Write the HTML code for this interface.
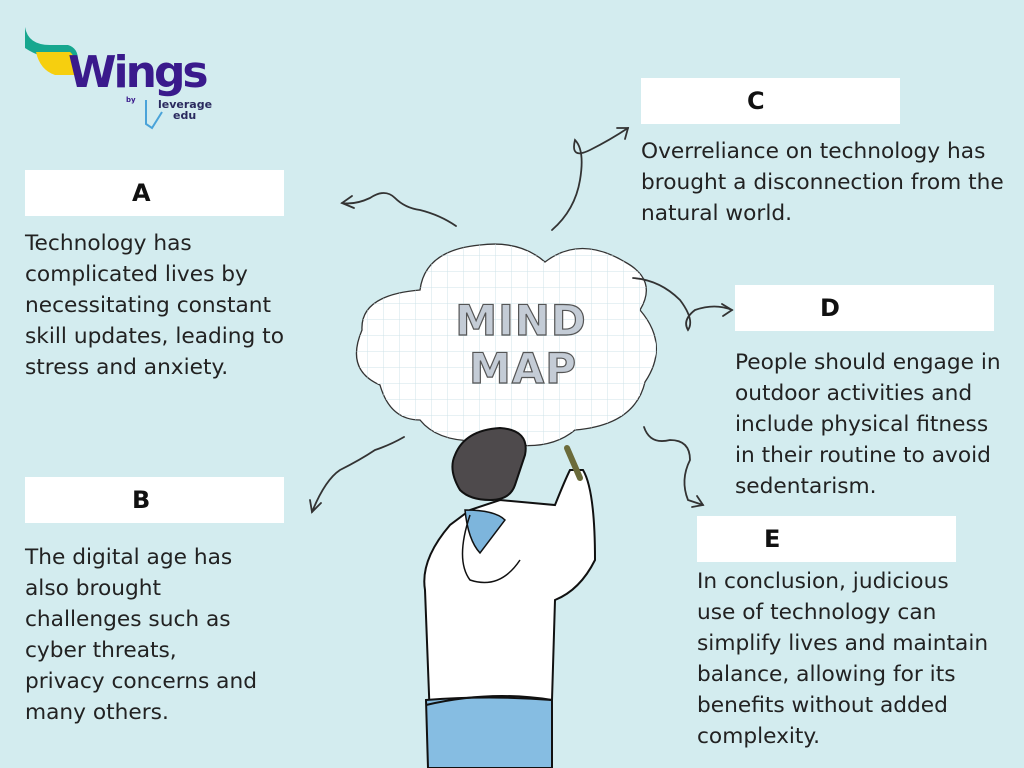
<!DOCTYPE html>
<html><head><meta charset="utf-8"><style>
body{margin:0;width:1024px;height:768px;background:#d3ecef;position:relative;overflow:hidden;font-family:"DejaVu Sans",sans-serif;}
.box{position:absolute;background:#fff;height:46px;width:259px;font-weight:bold;font-size:24px;line-height:46px;box-sizing:border-box;color:#111;}
.t{position:absolute;font-size:21.7px;line-height:31px;color:#222;white-space:nowrap;}
svg{position:absolute;left:0;top:0}
</style></head><body>
<svg width="1024" height="768" viewBox="0 0 1024 768">
<defs><pattern id="g" width="16" height="16" patternUnits="userSpaceOnUse"><path d="M16 0V16H0" fill="none" stroke="#cfe3e8" stroke-width="1"/></pattern></defs>
<path d="M25 27 Q28 45 50 45 L68 45 Q78 48 78 60 L60 60 Q40 58 25 48Z" fill="#17a78f"/>
<path d="M36 52 L70 52 Q76 56 76 75 L55 75 Q40 70 36 52Z" fill="#f6cf0f"/>
<text x="68" y="87" font-family="DejaVu Sans" font-weight="bold" font-size="44" fill="#3a1a8c" letter-spacing="-3">Wings</text>
<text x="126" y="102" font-size="7" font-weight="bold" fill="#3a1a8c">by</text>
<path d="M146 100 V124 L152 128 L162 112" fill="none" stroke="#4aa3d9" stroke-width="2"/>
<text x="158" y="108" font-size="11" font-weight="bold" fill="#2a2a5e">leverage</text>
<text x="173" y="119" font-size="11" font-weight="bold" fill="#2a2a5e">edu</text>
<path d="M380 385 Q345 370 362 330 Q360 295 420 290 Q425 250 480 245 Q520 240 545 262 Q580 235 625 262 Q658 280 640 310 Q670 345 645 382 Q635 425 575 430 Q545 455 490 440 Q440 445 420 420 Q390 420 380 385Z" fill="#fff" stroke="#333" stroke-width="1.3"/>
<path d="M380 385 Q345 370 362 330 Q360 295 420 290 Q425 250 480 245 Q520 240 545 262 Q580 235 625 262 Q658 280 640 310 Q670 345 645 382 Q635 425 575 430 Q545 455 490 440 Q440 445 420 420 Q390 420 380 385Z" fill="url(#g)"/>
<text x="521" y="335" text-anchor="middle" font-family="DejaVu Sans" font-size="42" font-weight="bold" fill="#c4ccd6" stroke="#555" stroke-width="1.2" letter-spacing="1">MIND</text>
<text x="523" y="383" text-anchor="middle" font-family="DejaVu Sans" font-size="42" font-weight="bold" fill="#c4ccd6" stroke="#555" stroke-width="1.2" letter-spacing="1">MAP</text>
<path d="M430 768 V720 L425 590 Q420 560 450 525 L470 510 L500 500 L555 505 Q565 480 570 470 L583 470 Q595 490 595 560 Q580 590 555 600 L552 700 L548 768Z" fill="#fff" stroke="#111" stroke-width="2"/>
<path d="M465 510 Q468 540 480 553 L505 520 Q495 510 465 510Z" fill="#7db5dc" stroke="#111" stroke-width="1.5"/>
<path d="M470 515 Q455 560 470 580 Q500 590 520 560" fill="none" stroke="#111" stroke-width="1.5"/>
<path d="M426 700 Q490 695 552 700 V768 H428Z" fill="#86bde2" stroke="#111" stroke-width="2"/>
<path d="M426 705 Q490 690 552 700" fill="none" stroke="#111" stroke-width="2"/>
<path d="M455 455 Q465 430 500 428 Q530 430 525 455 Q520 470 515 485 Q510 500 490 500 Q470 500 460 490 Q448 470 455 455Z" fill="#4e4a4c" stroke="#111" stroke-width="2"/>
<path d="M567 448 L580 478" stroke="#6b6b3a" stroke-width="6" stroke-linecap="round"/>
<g fill="none" stroke="#333" stroke-width="1.8" stroke-linecap="round">
<path d="M456 226 Q440 215 420 210 Q405 208 395 198 Q385 188 370 198 Q355 205 342 203"/><path d="M352 196 L342 203 L354 208"/>
<path d="M552 230 Q575 210 580 180 Q585 150 575 140 Q570 160 590 150 Q610 140 628 128"/><path d="M617 128 L628 128 L625 139"/>
<path d="M633 278 Q660 280 680 300 Q695 320 688 330 Q682 320 695 310 Q715 303 732 310"/><path d="M722 304 L732 310 L723 316"/>
<path d="M644 427 Q650 445 670 440 Q690 440 690 460 Q680 480 688 500 L703 505"/><path d="M692 507 L703 505 L697 496"/>
<path d="M404 437 Q390 445 375 450 Q360 460 340 470 Q325 480 312 512"/><path d="M310 500 L312 512 L321 503"/>
</g>
</svg>
<div class="box" style="left:25px;top:170px;padding-left:107px">A</div>
<div class="box" style="left:25px;top:477px;padding-left:107px">B</div>
<div class="box" style="left:641px;top:78px;padding-left:106px">C</div>
<div class="box" style="left:735px;top:285px;padding-left:85px">D</div>
<div class="box" style="left:697px;top:516px;padding-left:67px">E</div>
<div class="t" style="left:25px;top:228px">Technology has<br>complicated lives by<br>necessitating constant<br>skill updates, leading to<br>stress and anxiety.</div>
<div class="t" style="left:25px;top:542px">The digital age has<br>also brought<br>challenges such as<br>cyber threats,<br>privacy concerns and<br>many others.</div>
<div class="t" style="left:641px;top:136px">Overreliance on technology has<br>brought a disconnection from the<br>natural world.</div>
<div class="t" style="left:735px;top:347px">People should engage in<br>outdoor activities and<br>include physical fitness<br>in their routine to avoid<br>sedentarism.</div>
<div class="t" style="left:697px;top:566px">In conclusion, judicious<br>use of technology can<br>simplify lives and maintain<br>balance, allowing for its<br>benefits without added<br>complexity.</div>
</body></html>
